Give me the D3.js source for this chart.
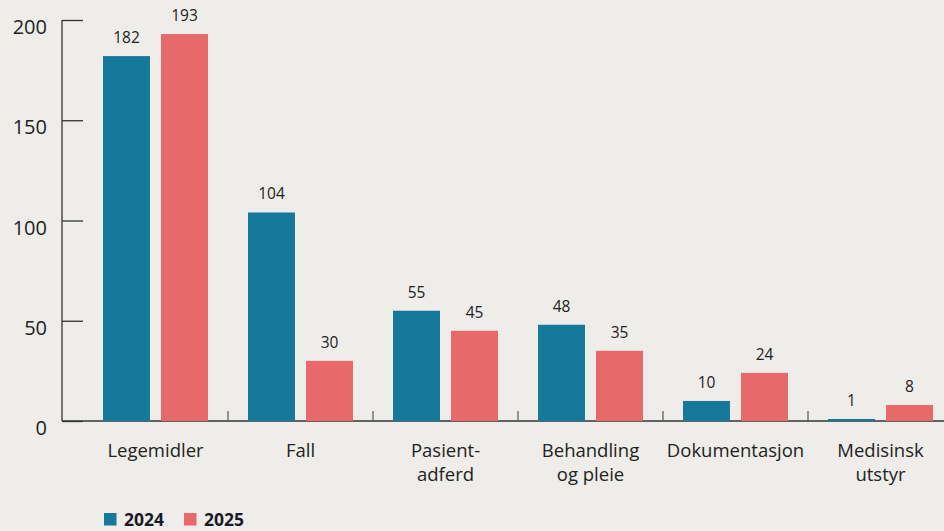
<!DOCTYPE html>
<html><head><meta charset="utf-8">
<script src="https://cdn.jsdelivr.net/npm/d3@7"></script>
<style>
html,body{margin:0;padding:0;background:#eeede9;}
svg{display:block;font-family:"Open Sans","Noto Sans",sans-serif;}
</style></head>
<body><svg id="c" width="944" height="531"></svg>
<script>
const categories = [["Legemidler"],["Fall"],["Pasient-","adferd"],["Behandling","og pleie"],["Dokumentasjon"],["Medisinsk","utstyr"]];
const series = ["2024","2025"];
const values2024 = [182,104,55,48,10,1];
const values2025 = [193,30,45,35,24,8];
const yTicks = [0,50,100,150,200];
const colors = ["#16789b","#e8696a"];

const svg = d3.select("#c");
const x = d3.scaleBand().domain(d3.range(categories.length)).range([83,953]);
const xi = d3.scaleBand().domain(series).range([20,125]).paddingInner(0.19);
const y = d3.scaleLinear().domain([0,200]).range([421,20]);

// y axis
const ya = svg.append("g").attr("transform","translate(62,0)")
  .call(d3.axisRight(y).tickValues(yTicks).tickSize(21).tickFormat(""));
ya.selectAll("line,path").attr("stroke","#333").attr("stroke-width",1.3);
ya.select("path").remove();
svg.append("line").attr("x1",62).attr("x2",62).attr("y1",y(200)).attr("y2",y(0)).attr("stroke","#333").attr("stroke-width",1.3);
svg.selectAll(".yl").data(yTicks).join("text")
  .attr("x",47).attr("y",d=>y(d)+14).attr("text-anchor","end")
  .attr("font-size",20).attr("fill","#222").text(d=>d);

// x axis
svg.append("line").attr("x1",62).attr("x2",944).attr("y1",y(0)).attr("y2",y(0)).attr("stroke","#333").attr("stroke-width",1.3);
svg.selectAll(".xt").data(d3.range(1,categories.length)).join("line")
  .attr("x1",d=>x(d)).attr("x2",d=>x(d)).attr("y1",y(0)-10).attr("y2",y(0))
  .attr("stroke","#555").attr("stroke-width",1.2);

const data = categories.map((c,i)=>({i, vals:[values2024[i],values2025[i]]}));
const g = svg.selectAll(".grp").data(data).join("g").attr("transform",d=>`translate(${x(d.i)},0)`);
g.selectAll("rect").data(d=>d.vals.map((v,k)=>({v,k}))).join("rect")
  .attr("x",d=>xi(series[d.k])).attr("width",xi.bandwidth())
  .attr("y",d=>y(d.v)).attr("height",d=>y(0)-y(d.v)).attr("fill",d=>colors[d.k]);
g.selectAll(".vl").data(d=>d.vals.map((v,k)=>({v,k}))).join("text")
  .attr("x",d=>xi(series[d.k])+xi.bandwidth()/2).attr("y",d=>y(d.v)-13)
  .attr("text-anchor","middle").attr("font-size",15.5).attr("fill","#222").text(d=>d.v);

// category labels
svg.selectAll(".cl").data(categories).join("text")
  .attr("text-anchor","middle").attr("font-size",18.5).attr("fill","#222")
  .attr("transform",(d,i)=>`translate(${x(i)+x.bandwidth()/2},457)`)
  .selectAll("tspan").data(d=>d).join("tspan")
  .attr("x",0).attr("dy",(d,j)=>j?24:0).text(d=>d);

// legend
const lg = svg.selectAll(".lg").data(series).join("g").attr("transform",(d,i)=>`translate(${104+i*80},513)`);
lg.append("rect").attr("width",12.5).attr("height",12.5).attr("fill",(d,i)=>colors[i]);
lg.append("text").attr("x",20).attr("y",12.5).attr("font-size",17.5).attr("font-weight","bold")
  .attr("fill","#1a1a2a").text(d=>d);
</script></body></html>
